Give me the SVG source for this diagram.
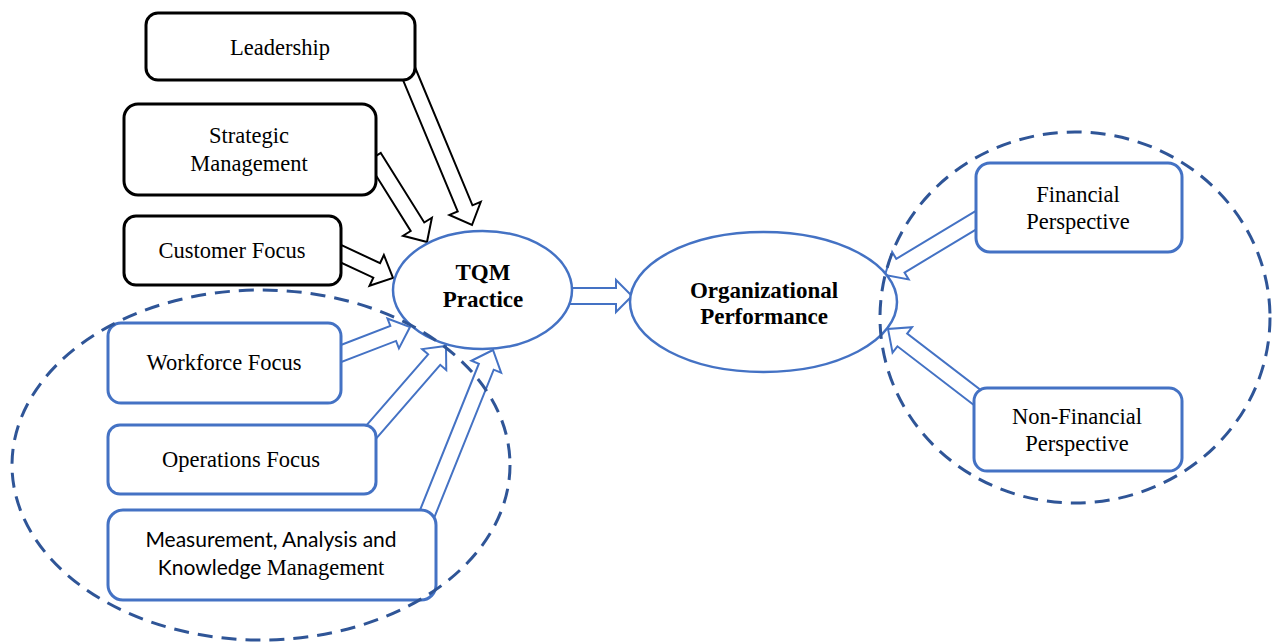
<svg xmlns="http://www.w3.org/2000/svg" width="1273" height="642" viewBox="0 0 1273 642">
<style>
.bk{fill:#fff;stroke:#000;stroke-width:3}
.bl{fill:#fff;stroke:#4472C4;stroke-width:3}
.el{fill:#fff;stroke:#4472C4;stroke-width:2.5}
.ab{fill:#fff;stroke:#000;stroke-width:2;stroke-linejoin:miter}
.au{fill:#fff;stroke:#4472C4;stroke-width:2;stroke-linejoin:miter}
.dash{fill:none;stroke:#2F5597;stroke-width:3;stroke-dasharray:15 9}
.t{font-family:"Liberation Serif","Times New Roman",serif;font-size:22.5px;fill:#000;text-anchor:middle}
.tb{font-family:"Liberation Serif","Times New Roman",serif;font-size:23px;font-weight:bold;fill:#000;text-anchor:middle}
.c{font-family:Lato,"Open Sans",sans-serif;font-size:21px;fill:#000;text-anchor:middle}
</style>
<rect width="1273" height="642" fill="#fff"/>
<g id="connectors">
<polygon class="ab" transform="translate(472,225) rotate(67.4)" points="-180,-8 -18,-8 -18,-17 0,0 -18,17 -18,8 -180,8"/>
<polygon class="ab" transform="translate(427,242) rotate(58)" points="-100,-8 -18,-8 -18,-17 0,0 -18,17 -18,8 -100,8"/>
<polygon class="ab" transform="translate(393,278) rotate(25)" points="-70,-8 -18,-8 -18,-17 0,0 -18,17 -18,8 -70,8"/>
<polygon class="au" transform="translate(410,327) rotate(-21)" points="-80,-8 -18,-8 -18,-16 0,0 -18,16 -18,8 -80,8"/>
<polygon class="au" transform="translate(446,346) rotate(-49)" points="-130,-8 -18,-8 -18,-16 0,0 -18,16 -18,8 -130,8"/>
<polygon class="au" transform="translate(493,350) rotate(-68.1)" points="-180,-8 -18,-8 -18,-16 0,0 -18,16 -18,8 -180,8"/>
<polygon class="au" transform="translate(632,296) rotate(0)" points="-70,-8 -16,-8 -16,-16 0,0 -16,16 -16,8 -70,8"/>
<polygon class="au" transform="translate(885,275) rotate(148.9)" points="-110,-8 -18,-8 -18,-16 0,0 -18,16 -18,8 -110,8"/>
<polygon class="au" transform="translate(888,329) rotate(217.5)" points="-125,-8 -18,-8 -18,-16 0,0 -18,16 -18,8 -125,8"/>
</g>
<g id="leadership"><rect class="bk" x="146" y="13" width="269" height="67" rx="12"/><text class="t" x="280" y="55">Leadership</text></g>
<g id="strategic"><rect class="bk" x="124" y="104" width="252" height="91" rx="14"/><text class="t" x="249" y="143">Strategic</text><text class="t" x="249" y="171">Management</text></g>
<g id="customer"><rect class="bk" x="124" y="216" width="217" height="69" rx="12"/><text class="t" x="232" y="258">Customer Focus</text></g>
<g id="workforce"><rect class="bl" x="108" y="323" width="233" height="80" rx="13"/><text class="t" x="224" y="370">Workforce Focus</text></g>
<g id="operations"><rect class="bl" x="108" y="425" width="268" height="69" rx="12"/><text class="t" x="241" y="467">Operations Focus</text></g>
<g id="measurement"><rect class="bl" x="108" y="510" width="328" height="90" rx="15"/><text class="c" x="271" y="547">Measurement, Analysis and</text><text class="c" x="271" y="575">Knowledge <tspan style="font-family:'Liberation Serif',serif;font-size:22.5px">Management</tspan></text></g>
<g id="tqm"><ellipse class="el" cx="482.5" cy="290" rx="89.5" ry="59"/><text class="tb" x="483" y="280">TQM</text><text class="tb" x="483" y="307">Practice</text></g>
<g id="orgperf"><ellipse class="el" cx="763.5" cy="302" rx="133.5" ry="70"/><text class="tb" x="764" y="298">Organizational</text><text class="tb" x="764" y="324">Performance</text></g>
<g id="financial"><rect class="bl" x="976" y="163" width="206" height="89" rx="14"/><text class="t" x="1078" y="202">Financial</text><text class="t" x="1078" y="229">Perspective</text></g>
<g id="nonfinancial"><rect class="bl" x="974" y="388" width="208" height="83" rx="13"/><text class="t" x="1077" y="424">Non-Financial</text><text class="t" x="1077" y="451">Perspective</text></g>
<g id="groups">
<ellipse class="dash" cx="261" cy="465" rx="249" ry="175"/>
<ellipse class="dash" cx="1075" cy="317.5" rx="195" ry="185.5"/>
</g>
</svg>
